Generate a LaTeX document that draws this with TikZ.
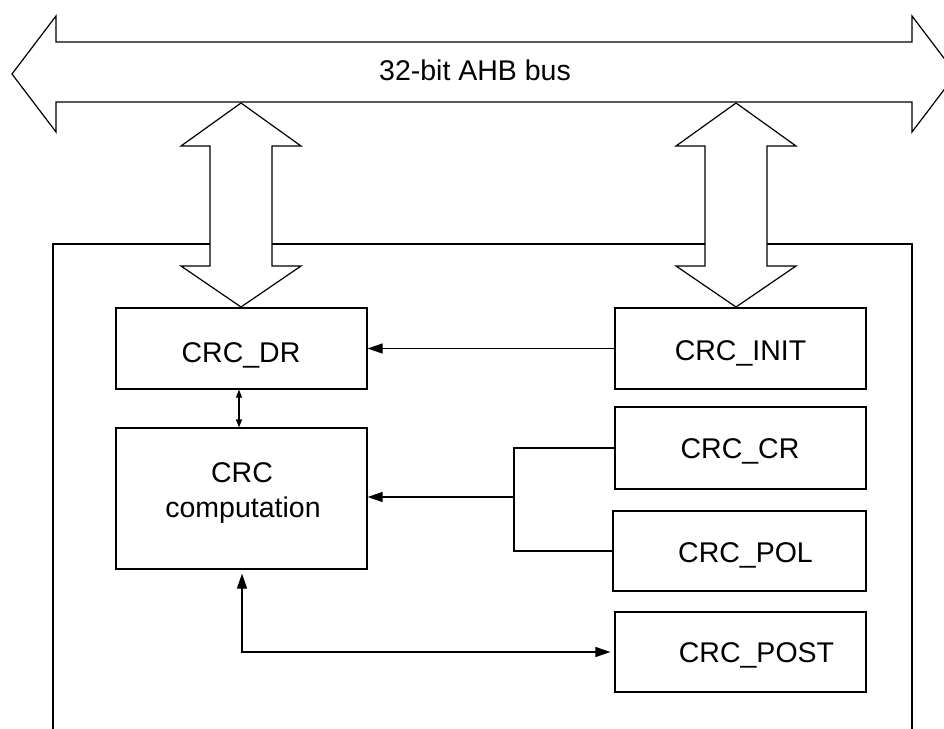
\documentclass[tikz,border=0pt]{standalone}
\usepackage{fontspec}
\setmainfont{Liberation Sans}
\usetikzlibrary{arrows.meta}
\begin{document}
\begin{tikzpicture}[x=1pt,y=-1pt,
  line width=1.2pt,
  blk/.style={draw, rectangle, inner sep=0pt, fill=white, minimum width=251pt},
  lbl/.style={font=\fontsize{28.5}{36}\selectfont, inner sep=0pt, anchor=base},
  fat/.style={draw, fill=white, line join=miter},
  tipend/.style={-{Triangle[length=15pt,width=10pt]}},
  tipboth/.style={{Triangle[length=15pt,width=10pt]}-{Triangle[length=15pt,width=10pt]}},
  tipsmall/.style={{Triangle[length=8pt,width=6pt]}-{Triangle[length=8pt,width=6pt]}}
]
\useasboundingbox (0,0) rectangle (944,728);
\clip (0,0) rectangle (944,728);
% bus
\draw[fat] (12,74) -- (56,16) -- (56,42) -- (912,42) -- (912,16) -- (956,74)
  -- (912,132) -- (912,102) -- (56,102) -- (56,132) -- cycle;
\node[lbl] (bustext) at (475,80) {32-bit AHB bus};
% outer box
\draw (53,740) -- (53,244) -- (912,244) -- (912,740);
% vertical fat arrows
\draw[fat] (241,103) -- (301,146) -- (272,146) -- (272,266) -- (301,266) -- (241,307)
  -- (181,266) -- (210,266) -- (210,146) -- (181,146) -- cycle;
\draw[fat] (736,103) -- (796,146) -- (767,146) -- (767,266) -- (796,266) -- (736,307)
  -- (676,266) -- (705,266) -- (705,146) -- (676,146) -- cycle;
% blocks
\node[blk, minimum height=81pt] (dr) at (241.5,348.5) {};
\node[blk, minimum height=141pt] (comp) at (241.5,498.5) {};
\node[blk, minimum height=81pt] (init) at (740.5,348.5) {};
\node[blk, minimum height=82pt] (cr) at (740.5,448) {};
\node[blk, minimum width=253pt, minimum height=80pt] (pol) at (739.5,551) {};
\node[blk, minimum height=80pt] (post) at (740.5,652) {};
% texts
\node[lbl] (drt) at (241,362) {CRC\_DR};
\node[lbl] (compt1) at (242,482) {CRC};
\node[lbl] (compt2) at (243,517) {computation};
\node[lbl] (initt) at (740.5,360) {CRC\_INIT};
\node[lbl] (crt) at (740,458) {CRC\_CR};
\node[lbl] (polt) at (745.5,562) {CRC\_POL};
\node[lbl] (postt) at (756.5,662) {CRC\_POST};
% connectors
\draw[tipend] (init.west) -- (dr.east);
\draw[tipsmall] ([xshift=-2.5pt]dr.south) -- ([xshift=-2.5pt]comp.north);
\coordinate (j) at (514,497);
\draw (cr.west) -- (cr.west -| j) -- (pol.west -| j) -- (pol.west);
\draw[tipend] (j) -- (comp.east |- j);
\coordinate (c) at (242,652);
\draw[tipboth, shorten <=4pt, shorten >=4pt] (comp.south -| c) -- (c) -- (post.west |- c);
\end{tikzpicture}
\end{document}
